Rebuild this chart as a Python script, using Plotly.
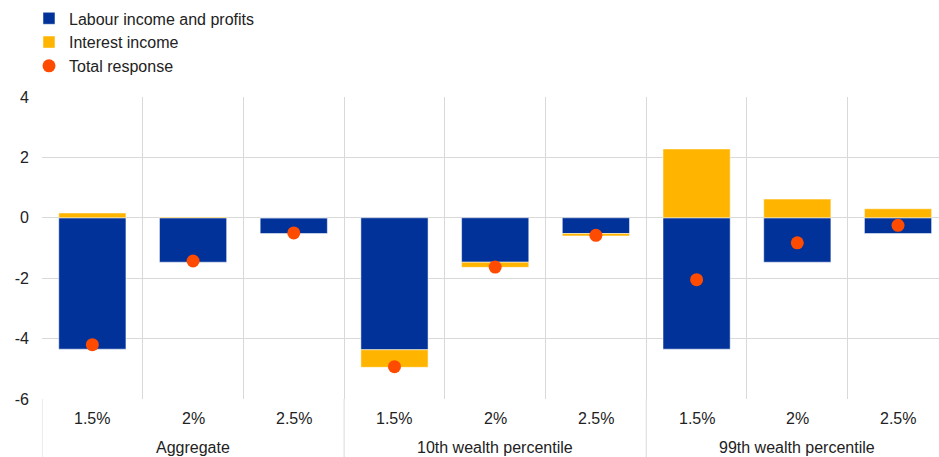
import plotly.graph_objects as go

groups = ["Aggregate", "10th wealth percentile", "99th wealth percentile"]
rates = ["1.5%", "2%", "2.5%"]
labour = [-4.35, -1.47, -0.52, -4.37, -1.47, -0.52, -4.35, -1.47, -0.52]
interest = [0.16, 0.03, 0.0, -0.58, -0.17, -0.08, 2.28, 0.62, 0.30]
total = [-4.2, -1.43, -0.5, -4.93, -1.63, -0.58, -2.05, -0.83, -0.25]
yticks = [4, 2, 0, -2, -4, -6]

BLUE = "#003299"
YELLOW = "#FFB400"
ORANGE = "#FF4B00"
GRID = "#D9D9D9"
FONT = "Liberation Sans, Arial, sans-serif"
FS = 16

n = len(labour)
xs = list(range(n))

fig = go.Figure()
fig.add_trace(go.Bar(x=xs, y=labour, name="Labour income and profits",
                     marker=dict(color=BLUE, line=dict(color="white", width=0.5)), width=0.667))
fig.add_trace(go.Bar(x=xs, y=interest, name="Interest income",
                     marker=dict(color=YELLOW, line=dict(color="white", width=0.5)), width=0.667))
fig.add_trace(go.Scatter(x=xs, y=total, mode="markers", name="Total response",
                         marker=dict(color=ORANGE, size=13)))

annotations = []
shapes = []
for i in range(n):
    annotations.append(dict(x=i, y=-0.063, xref="x", yref="paper", text=rates[i % 3],
                            showarrow=False, xanchor="center", yanchor="middle",
                            font=dict(size=FS, color="#222222", family=FONT)))
for g, name in enumerate(groups):
    annotations.append(dict(x=g * 3 + 1, y=-0.159, xref="x", yref="paper", text=name,
                            showarrow=False, xanchor="center", yanchor="middle",
                            font=dict(size=FS, color="#222222", family=FONT)))
for b in [-0.5, 2.5, 5.5]:
    shapes.append(dict(type="line", xref="x", yref="paper", x0=b, x1=b, y0=-0.2, y1=0,
                       line=dict(color=GRID, width=1)))

fig.update_layout(
    width=939, height=457,
    margin=dict(l=42, r=0, t=97, b=58, autoexpand=False),
    paper_bgcolor="white", plot_bgcolor="white",
    barmode="relative",
    font=dict(family=FONT, size=FS, color="#222222"),
    legend=dict(x=-0.0145, y=0.997, xref="paper", yref="container", xanchor="left", yanchor="top",
                font=dict(size=FS, family=FONT, color="#222222"),
                tracegroupgap=0, itemwidth=30, traceorder="normal",
                bgcolor="rgba(0,0,0,0)"),
    xaxis=dict(range=[-0.5, 8.407], tickvals=[i + 0.5 for i in range(-1, n)],
               showticklabels=False, showgrid=True, gridcolor=GRID, gridwidth=1,
               zeroline=False, showline=False, ticks="", automargin=False),
    yaxis=dict(range=[-6, 4], tickvals=yticks, ticktext=[str(v) for v in yticks],
               showgrid=True, gridcolor=GRID, gridwidth=1, zeroline=False,
               showline=False, ticks="", ticklabelstandoff=12, automargin=False,
               tickfont=dict(size=FS, family=FONT, color="#222222")),
    annotations=annotations, shapes=shapes,
    showlegend=True,
)

fig.write_html("out.html", config={"displayModeBar": False},
               post_script="document.body.style.margin='0';document.body.style.padding='0';")
